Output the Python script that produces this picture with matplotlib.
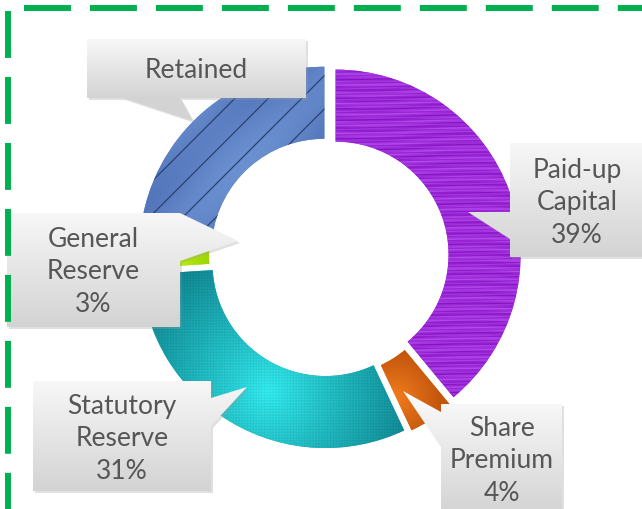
import numpy as np
import matplotlib
matplotlib.use('Agg')
import matplotlib.pyplot as plt
from matplotlib.patches import Polygon, Wedge
from matplotlib.colors import to_rgb

# data
names = ['Paid-up\nCapital', 'Share\nPremium', 'Statutory\nReserve', 'General\nReserve', 'Retained']
shares = [39, 4, 31, 3, 23]
show_pct = [True, True, True, True, False]

plt.rcParams['lines.scale_dashes'] = False
plt.rcParams['hatch.linewidth'] = 0.9

W, H = 642, 510
fig = plt.figure(figsize=(W / 100, H / 100), dpi=100)
ax = fig.add_axes([0, 0, 1, 1])

cx, cy, R, ring = 329, 258, 185, 72
colors = ['#9B22D8', '#E8701A', '#16B4BE', '#A6E000', '#5F86C9']
wedges, _ = ax.pie(shares, radius=R, center=(cx, cy), startangle=270, counterclock=True,
                   explode=[7, 7, 7, 7, 7], colors=colors,
                   wedgeprops=dict(width=ring, linewidth=0))
ax.set_xlim(0, W)
ax.set_ylim(H, 0)
ax.set_aspect('auto')
ax.axis('off')

yy, xx = np.mgrid[0:H, 0:W].astype(float)


def lerp(c0, c1, t):
    a, b = np.array(to_rgb(c0)), np.array(to_rgb(c1))
    return a + (b - a) * t[..., None]


def texture(img, patch, z=2):
    im = ax.imshow(np.clip(img, 0, 1), extent=(0, W, H, 0), origin='upper',
                   interpolation='bilinear', zorder=z, aspect='auto')
    im.set_clip_path(patch)


# purple: horizontal streaks
v = (0.45 * np.sin(yy * 1.7 + 0.02 * xx) + 0.35 * np.sin(yy * 0.63 + 2 * np.sin(xx * 0.03))
     + 0.2 * np.sin(yy * 3.1 + xx * 0.11))
v = (v - v.min()) / (v.max() - v.min())
texture(lerp('#8610C2', '#B64CF0', v), wedges[0])

# orange: soft centre glow
d = np.hypot(xx - 395, yy - 398)
texture(lerp('#F27C1E', '#C2560C', np.clip(d / 45, 0, 1)), wedges[1])

# teal: radial glow with fine grid
d = np.hypot(xx - 268, yy - 392)
t = np.clip(d / 175, 0, 1) ** 0.9
img = lerp('#34F4F8', '#0A7A86', t)
img *= (1 - 0.05 * (np.sin(xx * 1.1) ** 2 + np.sin(yy * 1.1) ** 2))[..., None]
texture(img, wedges[2])

# lime
texture(lerp('#B4EC10', '#8CC400', np.clip((xx - 180) / 50, 0, 1)), wedges[3])

# blue: planks with dark diagonal lines
v = 0.5 + 0.25 * np.sin((xx + yy) * 0.05) + 0.15 * np.sin((xx - yy) * 0.021)
texture(lerp('#5073B8', '#6E93D2', np.clip(v, 0, 1)), wedges[4])
bw = wedges[4]
ax.add_patch(Wedge(bw.center, bw.r, bw.theta1, bw.theta2, width=bw.width,
                   facecolor='none', edgecolor='#2A4272', lw=0, hatch='/', zorder=3))

# callouts
callouts = [
    [(510, 144), (645, 144), (645, 258), (510, 258), (510, 240), (468, 213), (510, 213)],
    [(441, 405), (562, 405), (562, 515), (441, 515), (441, 448), (403, 392), (441, 413)],
    [(33, 382), (211, 382), (211, 399), (247, 388), (211, 427), (211, 492), (33, 492)],
    [(7, 214), (180, 214), (238, 242), (180, 262), (180, 328), (7, 328)],
    [(87, 40), (306, 40), (306, 99), (180, 99), (193, 122), (123, 99), (87, 99)],
]
boxes_y = [(144, 258), (405, 515), (382, 492), (214, 328), (40, 99)]
text_pos = [(577, 203), (502, 461), (122, 439), (93, 272), (196, 71)]

for i, verts in enumerate(callouts):
    sh = Polygon([(x + 2, y + 2) for x, y in verts], closed=True, facecolor='#9A9A9A',
                 alpha=0.3, lw=0, zorder=4)
    ax.add_patch(sh)
    poly = Polygon(verts, closed=True, facecolor='none', lw=0, zorder=5)
    ax.add_patch(poly)
    y0, y1 = boxes_y[i]
    t = np.clip((yy - y0) / (y1 - y0), 0, 1)
    texture(lerp('#F7F7F7', '#D3D3D3', t), poly, z=5)

    label = names[i]
    if show_pct[i]:
        label += '\n%d%%' % shares[i]
    ax.text(text_pos[i][0], text_pos[i][1], label, ha='center', va='center',
            fontsize=19, color='#565656', linespacing=1.38, family='Lato', zorder=6)

# dashed green frame
ax.plot([24, W + 30], [9, 9], color='#00B050', lw=4.3, dashes=(33.8, 13.7),
        solid_capstyle='butt', zorder=7)
ax.plot([7.5, 7.5], [12, H + 30], color='#00B050', lw=4.3, dashes=(33.8, 13.7),
        solid_capstyle='butt', zorder=7)

fig.savefig('out.png', dpi=100)
